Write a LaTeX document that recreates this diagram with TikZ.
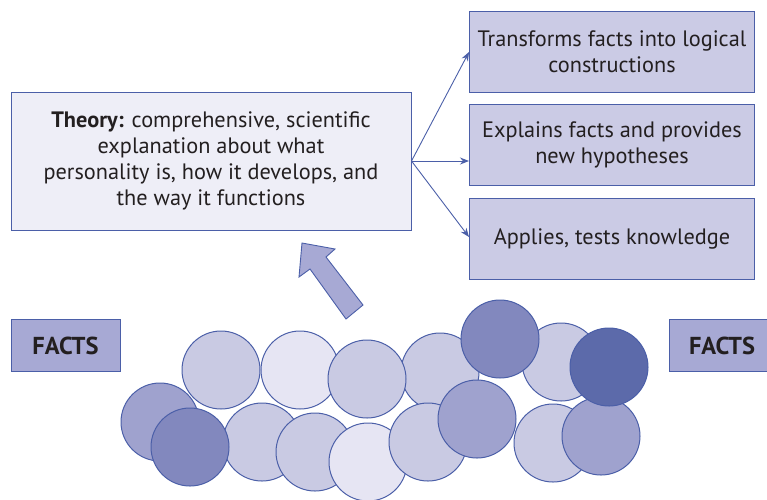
\documentclass[tikz,border=0pt]{standalone}
\usepackage{fontspec}
\setmainfont{PT Sans}
\usetikzlibrary{arrows.meta}

% Cores do diagrama
\definecolor{linha}{RGB}{75,95,168}
\definecolor{texto}{RGB}{35,31,32}
\definecolor{fundoTeoria}{RGB}{238,238,247}
\definecolor{fundoCaixa}{RGB}{203,203,229}
\definecolor{fundoFatos}{RGB}{167,169,212}
\definecolor{bolaA}{RGB}{201,202,227}
\definecolor{bolaB}{RGB}{230,229,243}
\definecolor{bolaC}{RGB}{159,162,206}
\definecolor{bolaD}{RGB}{130,136,190}
\definecolor{bolaE}{RGB}{92,106,170}

\begin{document}
\begin{tikzpicture}[x=1pt,y=-1pt]

    % Tamanho das caixas da direita (altura e largura)
    \def\szh{81pt}
    \def\szw{285pt}

    % Estilos das caixas
    \tikzstyle{caixa} = [
      draw=linha, fill=fundoCaixa, rectangle, line width=1pt,
      minimum height=\szh, minimum width=\szw, inner sep=0pt,
      text=texto, align=center,
      font=\fontsize{22.3}{25.8}\selectfont
    ];
    \tikzstyle{fatos} = [
      draw=linha, fill=fundoFatos, rectangle, line width=1pt,
      minimum height=52pt, minimum width=109pt, inner sep=0pt,
      text=texto, font=\fontsize{24.5}{26}\selectfont\bfseries
    ];
    \tikzstyle{bola} = [
      draw=linha, circle, line width=1pt, minimum size=78pt, inner sep=0pt
    ];
    \tikzstyle{seta} = [
      draw=linha, line width=0.9pt, -{Stealth[length=9pt,width=7pt]}
    ];

    \useasboundingbox (0,0) rectangle (767,499);

    % Caixa da teoria
    \node[caixa, fill=fundoTeoria, minimum width=400pt, minimum height=138pt]
      (teoria) at (211,161)
      {\textbf{Theory:} comprehensive, scientific\\explanation about what\\
       personality is, how it develops, and\\the way it functions};

    % Caixas da direita
    \node[caixa] (transforma) at (612,52) {Transforms facts into logical\\constructions};
    \node[caixa] (explica) at (612,145) {Explains facts and provides\\new hypotheses};
    \node[caixa] (aplica) at (612,239) {Applies, tests knowledge};

    % Setas da teoria para as caixas
    \draw[seta] (teoria.east) -- (transforma.west);
    \draw[seta] (teoria.east) -- (explica.west |- teoria.east);
    \path (aplica.west) ++(0,-2) coordinate (alvo);
    \draw[seta] (teoria.east) -- (alvo);

    % Caixas dos fatos
    \node[fatos] (fatosE) at (65.5,345.5) {FACTS};
    \node[fatos, minimum width=120pt, text width=98pt, align=left]
      (fatosD) at (729,345.5) {\hspace*{9pt}FACTS};

    % Bolas dos fatos (x/y/cor), na ordem de sobreposicao
    \def\B{221/370/bolaA, 300/370/bolaB, 440/372/bolaA, 367/379/bolaA,
           561/362/bolaA, 553/443/bolaA, 262/442/bolaA, 160/422/bolaC,
           190/447/bolaD, 315/452/bolaA, 368/462/bolaB, 428/442/bolaA,
           477/419/bolaC, 500/339/bolaD, 601/436/bolaC, 609/367/bolaE}

    % Loop para desenhar cada bola
    \foreach \x/\y/\c [count=\i] in \B
    {
      \node[bola, fill=\c] (bola\i) at (\x,\y) {};
    }

    % Seta larga dos fatos para a teoria
    \draw[draw=linha, fill=fundoFatos, line width=0.9pt, line join=miter]
      (302,243) -- (335,249) -- (326,257) -- (363,305) --
      (346,319) -- (310,269) -- (299,277) -- cycle;

  \end{tikzpicture}
\end{document}
